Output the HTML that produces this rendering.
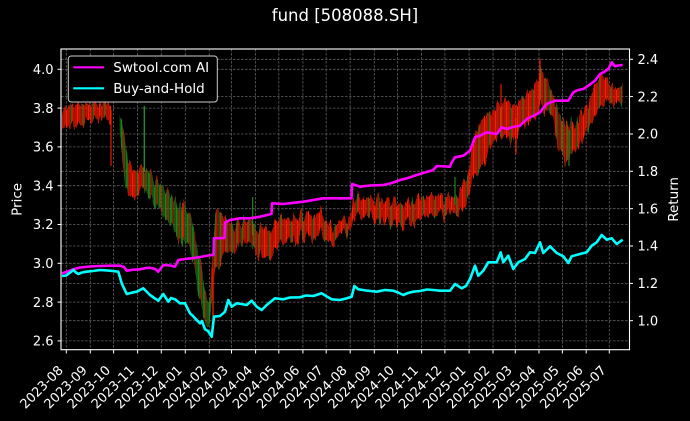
<!DOCTYPE html>
<html>
<head>
<meta charset="utf-8">
<style>
html,body{margin:0;padding:0;background:#000;}
svg{display:block;}
text{font-family:"DejaVu Sans","Liberation Sans",sans-serif;fill:#fff;}
</style>
</head>
<body>
<svg width="690" height="421" viewBox="0 0 690 421" xmlns="http://www.w3.org/2000/svg">
<defs>
  <pattern id="patR" patternUnits="userSpaceOnUse" x="0" y="0" width="11" height="10">
    <rect x="0" y="0" width="1" height="10" fill="#ff1a00"/>
    <rect x="1.3" y="0" width="0.9" height="10" fill="#ff2000"/>
    <rect x="2.4" y="0" width="0.9" height="10" fill="#ff1a00"/>
    <rect x="3.6" y="0" width="0.9" height="10" fill="#ff1a00"/>
    <rect x="4.9" y="0" width="0.9" height="10" fill="#1f8f1f"/>
    <rect x="6.1" y="0" width="0.9" height="10" fill="#ff1000"/>
    <rect x="7.3" y="0" width="0.9" height="10" fill="#ff1a00"/>
    <rect x="8.6" y="0" width="0.9" height="10" fill="#ff2200"/>
    <rect x="9.8" y="0" width="0.9" height="10" fill="#ff1a00"/>
  </pattern>
  <pattern id="patG" patternUnits="userSpaceOnUse" x="0" y="0" width="11" height="10">
    <rect x="0" y="0" width="0.9" height="10" fill="#1f8f1f"/>
    <rect x="1.3" y="0" width="0.8" height="10" fill="#238a1c"/>
    <rect x="2.4" y="0" width="0.9" height="10" fill="#ff1a00"/>
    <rect x="3.6" y="0" width="0.8" height="10" fill="#1f8f1f"/>
    <rect x="4.9" y="0" width="0.9" height="10" fill="#1a961a"/>
    <rect x="6.1" y="0" width="0.8" height="10" fill="#1f8f1f"/>
    <rect x="7.3" y="0" width="0.9" height="10" fill="#e81800"/>
    <rect x="8.6" y="0" width="0.8" height="10" fill="#1f8f1f"/>
    <rect x="9.8" y="0" width="0.8" height="10" fill="#2a8a1a"/>
  </pattern>
  <pattern id="patM" patternUnits="userSpaceOnUse" x="0" y="0" width="11" height="10">
    <rect x="0" y="0" width="0.9" height="10" fill="#ff1a00"/>
    <rect x="1.3" y="0" width="0.8" height="10" fill="#1f8f1f"/>
    <rect x="2.4" y="0" width="0.9" height="10" fill="#ff1a00"/>
    <rect x="3.6" y="0" width="0.8" height="10" fill="#ff1a00"/>
    <rect x="4.9" y="0" width="0.9" height="10" fill="#ff2200"/>
    <rect x="6.1" y="0" width="0.8" height="10" fill="#1f8f1f"/>
    <rect x="7.3" y="0" width="0.9" height="10" fill="#ff1a00"/>
    <rect x="8.6" y="0" width="0.8" height="10" fill="#d01500"/>
    <rect x="9.8" y="0" width="0.8" height="10" fill="#1f8f1f"/>
  </pattern>
  <filter id="rough" filterUnits="userSpaceOnUse" x="0" y="0" width="690" height="421" color-interpolation-filters="sRGB">
    <feTurbulence type="fractalNoise" baseFrequency="0.3 0.01" numOctaves="2" seed="5" result="n"/>
    <feColorMatrix in="n" type="matrix" values="1 0 0 0 0  0 0 0 0 0.5  0 0 0 0 0.5  0 0 0 0 1" result="m"/>
    <feDisplacementMap in="SourceGraphic" in2="m" scale="28" xChannelSelector="G" yChannelSelector="R"/>
  </filter>
</defs>
<rect x="0" y="0" width="690" height="421" fill="#000"/>

<!-- title -->
<text x="345" y="21" font-size="16.5" text-anchor="middle">fund [508088.SH]</text>

<!-- grid -->
<g stroke="#5e5e5e" stroke-width="0.8" stroke-dasharray="2.6,1.4" fill="none">
  <line x1="66.3" y1="49" x2="66.3" y2="349.7"/>
  <line x1="90.3" y1="49" x2="90.3" y2="349.7"/>
  <line x1="113.6" y1="49" x2="113.6" y2="349.7"/>
  <line x1="137.6" y1="49" x2="137.6" y2="349.7"/>
  <line x1="161.3" y1="49" x2="161.3" y2="349.7"/>
  <line x1="185.3" y1="49" x2="185.3" y2="349.7"/>
  <line x1="209.3" y1="49" x2="209.3" y2="349.7"/>
  <line x1="231.5" y1="49" x2="231.5" y2="349.7"/>
  <line x1="255.6" y1="49" x2="255.6" y2="349.7"/>
  <line x1="278.8" y1="49" x2="278.8" y2="349.7"/>
  <line x1="302.9" y1="49" x2="302.9" y2="349.7"/>
  <line x1="326.2" y1="49" x2="326.2" y2="349.7"/>
  <line x1="350.2" y1="49" x2="350.2" y2="349.7"/>
  <line x1="374.3" y1="49" x2="374.3" y2="349.7"/>
  <line x1="397.5" y1="49" x2="397.5" y2="349.7"/>
  <line x1="421.6" y1="49" x2="421.6" y2="349.7"/>
  <line x1="444.9" y1="49" x2="444.9" y2="349.7"/>
  <line x1="469.1" y1="49" x2="469.1" y2="349.7"/>
  <line x1="493" y1="49" x2="493" y2="349.7"/>
  <line x1="515.3" y1="49" x2="515.3" y2="349.7"/>
  <line x1="539" y1="49" x2="539" y2="349.7"/>
  <line x1="562.4" y1="49" x2="562.4" y2="349.7"/>
  <line x1="586.2" y1="49" x2="586.2" y2="349.7"/>
  <line x1="609.3" y1="49" x2="609.3" y2="349.7"/>
  <line x1="61" y1="69.3" x2="629.5" y2="69.3"/>
  <line x1="61" y1="108.1" x2="629.5" y2="108.1"/>
  <line x1="61" y1="146.9" x2="629.5" y2="146.9"/>
  <line x1="61" y1="185.7" x2="629.5" y2="185.7"/>
  <line x1="61" y1="224.5" x2="629.5" y2="224.5"/>
  <line x1="61" y1="263.3" x2="629.5" y2="263.3"/>
  <line x1="61" y1="302.1" x2="629.5" y2="302.1"/>
  <line x1="61" y1="340.9" x2="629.5" y2="340.9"/>
  <line x1="61" y1="59.3" x2="629.5" y2="59.3"/>
  <line x1="61" y1="96.6" x2="629.5" y2="96.6"/>
  <line x1="61" y1="134" x2="629.5" y2="134"/>
  <line x1="61" y1="171.3" x2="629.5" y2="171.3"/>
  <line x1="61" y1="208.7" x2="629.5" y2="208.7"/>
  <line x1="61" y1="246" x2="629.5" y2="246"/>
  <line x1="61" y1="283.4" x2="629.5" y2="283.4"/>
  <line x1="61" y1="320.7" x2="629.5" y2="320.7"/>
</g>

<!-- candles: striped envelope with ragged displacement -->
<g filter="url(#rough)">
  <polygon fill="url(#patR)" points="62,116 66,110 70,104 80,105 90,103 100,103 106,104 111,106 111,124 106,120 100,118 90,122 80,124 70,126 66,130 62,133"/>
  <polygon fill="url(#patG)" points="119.5,113 122,118 125,140 128,165 128,196 125,180 122,150 119.5,128"/>
  <polygon fill="url(#patR)" points="128,165 133,168 138,170 143,165 143,188 138,195 133,197 128,196"/>
  <polygon fill="url(#patG)" points="143,165 146,168 150,175 155,180 160,180 165,190 170,195 175,200 180,205 185,207 190,215 195,240 200,265 205,290 210,300 210,326 205,322 200,302 195,275 190,250 185,242 180,240 175,232 170,225 165,220 160,210 155,205 150,200 146,190 143,188"/>
  <polygon fill="url(#patM)" points="210,300 212.5,260 215,210 220,212 226,220 232,222 240,223 248,222 255,228 260,229 260,258 255,253 248,246 240,247 232,250 226,252 220,262 215,262 212.5,300 210,326"/>
  <polygon fill="url(#patR)" points="260,229 262,230 270,225 280,220 290,220 300,216 310,214 320,212 327,220 334,226 342,222 350,218 352.5,200 360,197 370,199 380,200 390,200 400,204 410,202 420,197 430,195 440,196 450,198 456,196 462,185 467,180 472,145 478,125 485,118 492,112 500,105 508,100 514,108 520,100 527,92 535,88 540,78 540,104 535,118 527,125 520,132 514,148 508,135 500,138 492,142 485,165 478,172 472,180 467,205 462,210 456,214 450,213 440,214 430,216 420,218 410,222 400,224 390,222 380,222 370,218 360,214 352.5,218 350,232 342,236 334,241 327,240 320,234 310,236 300,238 290,242 280,245 270,253 262,260 260,258"/>
  <polygon fill="url(#patM)" points="540,78 541,72 547,75 553,95 558,112 565,122 572,125 572,155 565,160 558,148 553,120 547,112 541,105 540,104"/>
  <polygon fill="url(#patR)" points="572,125 580,115 587,105 593,92 600,75 606,78 612,85 618,90 622.5,82 622.5,98 618,104 612,104 606,100 600,108 593,120 587,130 580,140 572,155"/>
</g>
<g stroke-width="1.1">
  <line x1="111" y1="110" x2="111" y2="166" stroke="#ff1a00"/>
  <line x1="144.3" y1="106" x2="144.3" y2="172" stroke="#1f8f1f" stroke-width="1.4"/>
  <line x1="213" y1="268" x2="213" y2="323" stroke="#ff1a00" stroke-width="1.3"/>
  <line x1="252.7" y1="197" x2="252.7" y2="235" stroke="#1f8f1f"/>
  <line x1="455" y1="177" x2="455" y2="205" stroke="#1f8f1f"/>
  <line x1="501" y1="84" x2="501" y2="130" stroke="#ff1a00"/>
  <line x1="516" y1="118" x2="516" y2="154" stroke="#ff1a00"/>
  <line x1="540" y1="59" x2="540" y2="100" stroke="#ff1a00"/>
  <line x1="569" y1="130" x2="569" y2="166" stroke="#1f8f1f"/>
  <line x1="182.7" y1="203" x2="182.7" y2="237" stroke="#ff1a00"/>
</g>

<!-- strategy line -->
<polyline fill="none" stroke="#ff00ff" stroke-width="2.6" stroke-linejoin="round" points="62,273.3 66,272 73.3,269.3 80,267.5 90,266.5 100,266 110,265.7 120,265.7 124,267 126.7,270.7 132,269.8 140,269.3 146,268 150,267.7 155,269 158.3,271.7 163.3,265 170,265.5 175,266.7 178.3,260 185,259 191.7,258.3 200,257 211.7,255 213.5,255 214,238.3 223.3,238 224.5,238 225,222.7 230,220 240,218.3 250,218.3 260,216.7 271.5,214 272,203.3 283.3,204 303.3,201.7 323.3,198.3 351.5,198.3 352,184 360,186.7 370,185.5 383.3,185 392,183 400,180 408,178 416.7,175 425,172.5 433.3,170 436.7,166 450,166.7 451.7,162.3 455,157.3 463.3,155.7 470,150.7 475,137.3 480,135.7 486.7,132.3 491,133 496.7,134 501.7,127.3 506.7,129 513,127 520,125.7 526.7,119 533,116 540,112.3 546.7,104 555,100.7 568.3,100.7 573.3,92.3 578,90 583.3,89 588.3,85.7 595,80.7 600,74 604,72 608.3,69 611.7,62.3 615,66.3 618,65.5 622.7,65"/>

<!-- buy and hold line -->
<polyline fill="none" stroke="#00ffff" stroke-width="2.6" stroke-linejoin="round" points="62,276 66,275.5 70,272.7 73.3,270 76,272.5 78.3,274 82,272.5 86.7,271.7 93,271 100,270 110,270.7 118.3,271.7 121.7,283.3 126.7,294 131.7,292.7 136.7,291.7 140,290 143.3,288.3 147,292 150,295 155,298.5 158.3,300.7 163.3,294 168.3,301.7 171,298 175,299.3 180,303.3 185,303.3 190,313.3 193,316 195,318.3 200,323.3 202,321 205,329.3 208,331 211.7,336.7 214,316.7 220,316 225,311.7 228.3,300 231.7,306.7 236.7,303.3 241,304 246.7,305 251.7,300.7 256.7,306.7 261.7,310 266.7,305 275,298.3 283.3,299.3 290,297.5 300,297.3 306,295.5 313.3,296 321.7,293.3 326,296 331.7,299.3 340,300 346,298.5 351.7,296.7 354.3,286 358.3,289.3 366,290.5 376.7,291.7 385,290 393.3,290.7 398,292.5 403.3,295 408,293 413.3,291.7 420,291 427,289.5 433.3,290 440,290.7 450,290.7 455,284 461.7,288.3 466,286 470,279 475,265.7 478.3,275.7 483.3,270.7 488.3,262.3 496.7,262.3 500.7,252.3 503.3,262.3 508.3,255.7 513.3,269 518.3,262.3 525,259 530,252.3 535,253 540,242.3 543.3,253 550,246.3 556.7,253 563.3,256.3 568.3,263 571.7,256.3 580,254 586.7,252.3 591.7,245.7 596.7,242.3 601.7,235 606.7,239.7 611.7,238.3 616.7,244 622.7,239.7"/>

<!-- spines -->
<rect x="61" y="49" width="568.5" height="300.7" fill="none" stroke="#fff" stroke-width="1.1"/>

<!-- ticks -->
<g stroke="#fff" stroke-width="1">
  <line x1="57.5" y1="69.3" x2="61" y2="69.3"/>
  <line x1="57.5" y1="108.1" x2="61" y2="108.1"/>
  <line x1="57.5" y1="146.9" x2="61" y2="146.9"/>
  <line x1="57.5" y1="185.7" x2="61" y2="185.7"/>
  <line x1="57.5" y1="224.5" x2="61" y2="224.5"/>
  <line x1="57.5" y1="263.3" x2="61" y2="263.3"/>
  <line x1="57.5" y1="302.1" x2="61" y2="302.1"/>
  <line x1="57.5" y1="340.9" x2="61" y2="340.9"/>
  <line x1="629.5" y1="59.3" x2="633" y2="59.3"/>
  <line x1="629.5" y1="96.6" x2="633" y2="96.6"/>
  <line x1="629.5" y1="134" x2="633" y2="134"/>
  <line x1="629.5" y1="171.3" x2="633" y2="171.3"/>
  <line x1="629.5" y1="208.7" x2="633" y2="208.7"/>
  <line x1="629.5" y1="246" x2="633" y2="246"/>
  <line x1="629.5" y1="283.4" x2="633" y2="283.4"/>
  <line x1="629.5" y1="320.7" x2="633" y2="320.7"/>
  <line x1="66.3" y1="349.7" x2="66.3" y2="353.5"/>
  <line x1="90.3" y1="349.7" x2="90.3" y2="353.5"/>
  <line x1="113.6" y1="349.7" x2="113.6" y2="353.5"/>
  <line x1="137.6" y1="349.7" x2="137.6" y2="353.5"/>
  <line x1="161.3" y1="349.7" x2="161.3" y2="353.5"/>
  <line x1="185.3" y1="349.7" x2="185.3" y2="353.5"/>
  <line x1="209.3" y1="349.7" x2="209.3" y2="353.5"/>
  <line x1="231.5" y1="349.7" x2="231.5" y2="353.5"/>
  <line x1="255.6" y1="349.7" x2="255.6" y2="353.5"/>
  <line x1="278.8" y1="349.7" x2="278.8" y2="353.5"/>
  <line x1="302.9" y1="349.7" x2="302.9" y2="353.5"/>
  <line x1="326.2" y1="349.7" x2="326.2" y2="353.5"/>
  <line x1="350.2" y1="349.7" x2="350.2" y2="353.5"/>
  <line x1="374.3" y1="349.7" x2="374.3" y2="353.5"/>
  <line x1="397.5" y1="349.7" x2="397.5" y2="353.5"/>
  <line x1="421.6" y1="349.7" x2="421.6" y2="353.5"/>
  <line x1="444.9" y1="349.7" x2="444.9" y2="353.5"/>
  <line x1="469.1" y1="349.7" x2="469.1" y2="353.5"/>
  <line x1="493" y1="349.7" x2="493" y2="353.5"/>
  <line x1="515.3" y1="349.7" x2="515.3" y2="353.5"/>
  <line x1="539" y1="349.7" x2="539" y2="353.5"/>
  <line x1="562.4" y1="349.7" x2="562.4" y2="353.5"/>
  <line x1="586.2" y1="349.7" x2="586.2" y2="353.5"/>
  <line x1="609.3" y1="349.7" x2="609.3" y2="353.5"/>
</g>

<!-- left tick labels -->
<g font-size="13" text-anchor="end">
  <text x="53.5" y="74">4.0</text>
  <text x="53.5" y="112.8">3.8</text>
  <text x="53.5" y="151.6">3.6</text>
  <text x="53.5" y="190.4">3.4</text>
  <text x="53.5" y="229.2">3.2</text>
  <text x="53.5" y="268">3.0</text>
  <text x="53.5" y="306.8">2.8</text>
  <text x="53.5" y="345.6">2.6</text>
</g>
<!-- right tick labels -->
<g font-size="13" text-anchor="start">
  <text x="637.5" y="64">2.4</text>
  <text x="637.5" y="101.3">2.2</text>
  <text x="637.5" y="138.7">2.0</text>
  <text x="637.5" y="176">1.8</text>
  <text x="637.5" y="213.4">1.6</text>
  <text x="637.5" y="250.7">1.4</text>
  <text x="637.5" y="288.1">1.2</text>
  <text x="637.5" y="325.4">1.0</text>
</g>

<!-- x tick labels -->
<g font-size="13" text-anchor="end">
  <text transform="translate(63.8,371) rotate(-45)">2023-08</text>
  <text transform="translate(87.8,371) rotate(-45)">2023-09</text>
  <text transform="translate(111.1,371) rotate(-45)">2023-10</text>
  <text transform="translate(135.1,371) rotate(-45)">2023-11</text>
  <text transform="translate(158.8,371) rotate(-45)">2023-12</text>
  <text transform="translate(182.8,371) rotate(-45)">2024-01</text>
  <text transform="translate(206.8,371) rotate(-45)">2024-02</text>
  <text transform="translate(229,371) rotate(-45)">2024-03</text>
  <text transform="translate(253.1,371) rotate(-45)">2024-04</text>
  <text transform="translate(276.3,371) rotate(-45)">2024-05</text>
  <text transform="translate(300.4,371) rotate(-45)">2024-06</text>
  <text transform="translate(323.7,371) rotate(-45)">2024-07</text>
  <text transform="translate(347.7,371) rotate(-45)">2024-08</text>
  <text transform="translate(371.8,371) rotate(-45)">2024-09</text>
  <text transform="translate(395,371) rotate(-45)">2024-10</text>
  <text transform="translate(419.1,371) rotate(-45)">2024-11</text>
  <text transform="translate(442.4,371) rotate(-45)">2024-12</text>
  <text transform="translate(466.6,371) rotate(-45)">2025-01</text>
  <text transform="translate(490.5,371) rotate(-45)">2025-02</text>
  <text transform="translate(512.8,371) rotate(-45)">2025-03</text>
  <text transform="translate(536.5,371) rotate(-45)">2025-04</text>
  <text transform="translate(559.9,371) rotate(-45)">2025-05</text>
  <text transform="translate(583.7,371) rotate(-45)">2025-06</text>
  <text transform="translate(606.8,371) rotate(-45)">2025-07</text>
</g>

<!-- axis labels -->
<text font-size="13.5" text-anchor="middle" transform="translate(21.5,199.4) rotate(-90)">Price</text>
<text font-size="13.5" text-anchor="middle" transform="translate(678,199.4) rotate(-90)">Return</text>

<!-- legend -->
<rect x="68.3" y="56" width="149" height="46" rx="3" ry="3" fill="#000" stroke="#cccccc" stroke-width="1"/>
<line x1="73.3" y1="67.3" x2="104" y2="67.3" stroke="#ff00ff" stroke-width="2.2"/>
<line x1="73.3" y1="88.3" x2="104" y2="88.3" stroke="#00ffff" stroke-width="2.2"/>
<text x="113.3" y="72.2" font-size="13.5">Swtool.com AI</text>
<text x="113.3" y="93.2" font-size="13.5">Buy-and-Hold</text>
</svg>
</body>
</html>
